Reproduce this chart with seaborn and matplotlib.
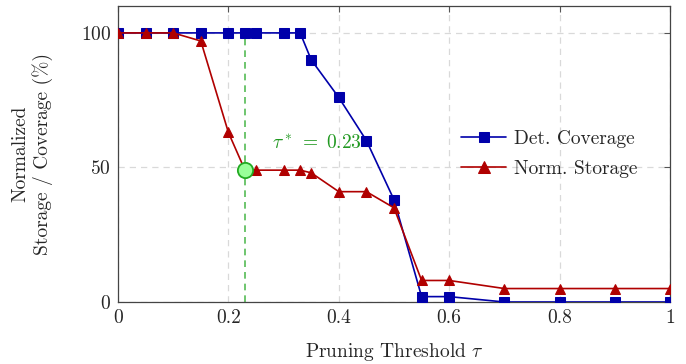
import pandas as pd
import matplotlib
matplotlib.use("Agg")
import matplotlib.pyplot as plt
import seaborn as sns

sns.set_theme(style="white")
plt.rcParams['font.family'] = 'serif'
plt.rcParams['font.serif'] = ['cmr10', 'DejaVu Serif']
plt.rcParams['mathtext.fontset'] = 'cm'
plt.rcParams['axes.formatter.use_mathtext'] = True

# data
tau = [0, 0.05, 0.1, 0.15, 0.2, 0.23, 0.25, 0.3, 0.33, 0.35, 0.4, 0.45,
       0.5, 0.55, 0.6, 0.7, 0.8, 0.9, 1.0]
coverage = [100, 100, 100, 100, 100, 100, 100, 100, 100, 90, 76, 60,
            38, 2, 2, 0, 0, 0, 0]
storage = [100, 100, 100, 97, 63, 49, 49, 49, 49, 48, 41, 41,
           35, 8, 8, 5, 5, 5, 5]
tau_star = 0.23
storage_star = 49

df = pd.DataFrame({'tau': tau, 'Det. Coverage': coverage, 'Norm. Storage': storage})

fig = plt.figure(figsize=(6.86, 3.64), dpi=100)
ax = fig.add_axes([118/686, 1 - 302/364, 552/686, 296/364])

ax.grid(True, color='#d9d9d9', linestyle=(0, (5, 4)), linewidth=0.9)
ax.set_axisbelow(True)

sns.lineplot(data=df, x='tau', y='Det. Coverage', ax=ax, color='#0000aa',
             marker='s', markersize=6.5, markeredgecolor='#0000aa',
             linewidth=1.2, label='Det. Coverage', zorder=3)
sns.lineplot(data=df, x='tau', y='Norm. Storage', ax=ax, color='#b00000',
             marker='^', markersize=7, markeredgecolor='#b00000',
             linewidth=1.2, label='Norm. Storage', zorder=4)

# selected threshold
ax.plot([tau_star, tau_star], [0, 100], color='#55bb55', linestyle=(0, (4, 3)),
        linewidth=1.2, zorder=2)
ax.plot([tau_star], [storage_star], marker='o', markersize=11,
        markerfacecolor='#99ff99', markeredgecolor='#22aa22',
        markeredgewidth=1.3, linestyle='none', zorder=5)
ax.text(0.279, 59, r'$\tau^*\;=\;0.23$', color='#229922', fontsize=14,
        ha='left', va='center')

ax.set_xlim(0, 1)
ax.set_ylim(0, 110)
ax.set_xticks([0, 0.2, 0.4, 0.6, 0.8, 1])
ax.set_xticklabels(['0', '0.2', '0.4', '0.6', '0.8', '1'])
ax.set_yticks([0, 50, 100])
ax.tick_params(direction='in', length=4, width=0.8, color='#555555',
               labelsize=14, top=True, right=True, pad=5)
for s in ax.spines.values():
    s.set_color('#444444')
    s.set_linewidth(0.9)

ax.set_xlabel(r'Pruning Threshold $\tau$', fontsize=14, labelpad=10)
ax.set_ylabel('Normalized\nStorage / Coverage (%)', fontsize=14,
              linespacing=1.2, labelpad=20)

ax.legend(loc='center left', bbox_to_anchor=(0.59, 0.5), frameon=False,
          fontsize=14, handlelength=2.3, labelspacing=0.6, handletextpad=0.4,
          markerscale=1.2)

fig.savefig('out.png', dpi=100)
